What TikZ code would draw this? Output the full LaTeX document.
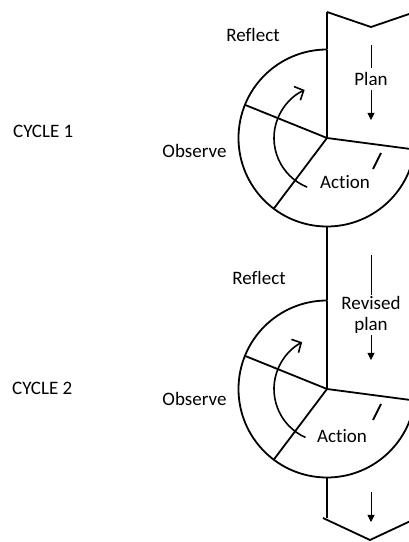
\documentclass[tikz,border=0pt]{standalone}
\usepackage{fontspec}
\setmainfont{Carlito}[Ligatures=NoCommon]
\usetikzlibrary{arrows.meta,calc}

\tikzset{
  stage/.style={font=\fontsize{19}{21}\selectfont, inner sep=2pt},
  frame/.style={line width=1.8pt, line join=miter},
  flow/.style={line width=0.9pt, -{Triangle[length=7pt,width=7pt]}},
  turn/.style={line width=1.6pt, -{Straight Barb[length=7pt,width=15pt]}}
}

\begin{document}
\begin{tikzpicture}[x=1pt,y=1pt]
  \useasboundingbox (0,0) rectangle (409,542);
  \clip (0,0) rectangle (409,542);
  \coordinate (c1) at (327,404);
  \coordinate (c2) at (327,153);
  % the two cycle wheels
  \foreach \c in {c1,c2} {
    \coordinate (\c top) at ($(\c)+(0,88.5)$);
    \coordinate (\c bot) at ($(\c)+(0,-88.5)$);
    \draw[frame] (\c top) arc[start angle=90,end angle=352.5,radius=88.5]
      -- (\c) -- (\c top);
    \draw[frame] (\c) -- +(158:88.5);
    \draw[frame] (\c) -- +(233:88.5);
    \draw[frame] ($(\c)+(46,-31)$) -- ($(\c)+(54,-15)$);
  }
  % spine and chevrons
  \coordinate (head) at (327,530);
  \coordinate (tail) at (327,24);
  \draw[frame] (head) -- (c1top);
  \draw[frame] (c1bot) -- (c2top);
  \draw[frame] (c2bot) -- (tail);
  \draw[frame] (head) -- (371,515) -- (415,530);
  \draw[frame] (323,24) -- (370,2) -- (417,24);
  % turning arrows
  \draw[turn] ($(c1)+(248:53)$) arc[start angle=248,end angle=115,radius=53];
  \draw[turn] ($(c2)+(246:53)$) arc[start angle=246,end angle=118,radius=53];
  % labels
  \node[stage, anchor=west] (cyc1) at (11,411) {CYCLE 1};
  \node[stage, anchor=west] (cyc2) at (10,154) {CYCLE 2};
  \node[stage] (refl1) at (253,507) {Reflect};
  \node[stage] (refl2) at (259,264) {Reflect};
  \node[stage] (obs1) at (194.5,391) {Observe};
  \node[stage] (obs2) at (194.5,143) {Observe};
  \node[stage] (act1) at (345,360) {Action};
  \node[stage] (act2) at (342,106) {Action};
  % plan arrows
  \coordinate (p1a) at (371,497);
  \coordinate (p1b) at (371,422);
  \node[stage, inner sep=4pt] (plan1) at (371,463) {Plan};
  \draw[flow] (p1a) -- (plan1) -- (p1b);
  \coordinate (p2a) at (371,287);
  \coordinate (p2b) at (371,182);
  \node[stage, align=center, inner sep=1pt] (plan2) at (371,227) {Revised\\plan};
  \draw[flow] (p2a) -- (plan2) -- (p2b);
  \coordinate (p3a) at (371,50);
  \coordinate (p3b) at (371,20);
  \draw[flow] (p3a) -- (p3b);
\end{tikzpicture}
\end{document}
